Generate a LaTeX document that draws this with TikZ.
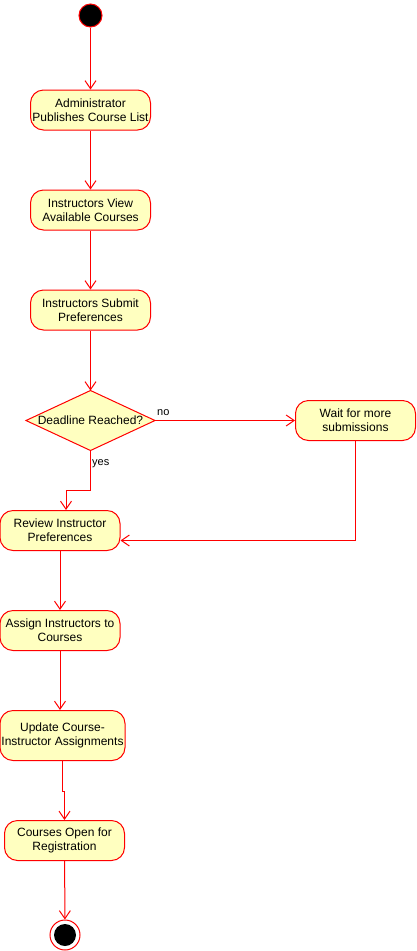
\documentclass[tikz,border=0pt]{standalone}
\usepackage{fontspec}
\setmainfont{Liberation Sans}
\usetikzlibrary{arrows.meta}
\definecolor{nodefill}{HTML}{FFFFC0}
\definecolor{edge}{HTML}{FF0000}
\tikzset{
  act/.style={draw=edge, fill=nodefill, rounded corners=13pt, line width=1pt,
    minimum width=120pt, minimum height=40pt, inner sep=0pt, align=center,
    font=\fontsize{12}{14}\selectfont},
  arr/.style={draw=edge, line width=1pt, -{Straight Barb[length=8pt,width=11pt,line width=1pt]}},
  lbl/.style={font=\fontsize{11}{13}\selectfont, inner sep=0pt}
}
\begin{document}
\begin{tikzpicture}[x=1pt,y=-1pt]
\useasboundingbox (0,0) rectangle (416,951);
\node[circle, fill=black, draw=edge, line width=1pt, minimum size=23pt, inner sep=0pt] (start) at (90.5,15.5) {};
\node[act] (b1) at (90.5,110) {Administrator\\Publishes Course List};
\node[act] (b2) at (90.5,210) {Instructors View\\Available Courses};
\node[act] (b3) at (90.5,310) {Instructors Submit\\Preferences};
\coordinate (dc) at (90.5,420.5);
\draw[draw=edge, fill=nodefill, line width=1pt] (26,420.5) -- (90.5,390.5) -- (155,420.5) -- (90.5,450.5) -- cycle;
\node[minimum width=129pt, minimum height=60pt, inner sep=0pt, font=\fontsize{12}{14}\selectfont] (dec) at (dc) {Deadline Reached?};
\node[act] (wait) at (355.5,420.5) {Wait for more\\submissions};
\node[act] (rev) at (60,530.5) {Review Instructor\\Preferences};
\node[act] (asg) at (60,630.5) {Assign Instructors to\\Courses};
\node[act, minimum width=125pt, minimum height=50pt] (upd) at (62.5,735.5) {Update Course-\\Instructor Assignments};
\node[act] (crs) at (64.5,840.5) {Courses Open for\\Registration};
\node[circle, draw=edge, line width=1pt, minimum size=30pt, inner sep=0pt] (end) at (65,935) {};
\node[circle, fill=black, minimum size=22pt, inner sep=0pt] (endin) at (end) {};
\draw[arr] (start) -- (b1);
\draw[arr] (b1) -- (b2);
\draw[arr] (b2) -- (b3);
\draw[arr] (b3) -- (dec.south |- 0,390.5);
\draw[arr] (dec.east) -- (wait.west);
\node[lbl, anchor=south west] (no) at (157,416) {no};
\draw[arr] (dec.south |- 0,450.5) -- ++(0,40) -| ([xshift=6pt]rev.north);
\node[lbl, anchor=north west] (yes) at (92,459) {yes};
\draw[arr] (wait.south) |- ([yshift=-10pt]rev.east);
\draw[arr] (rev) -- (asg);
\draw[arr] (asg) -- (asg |- upd.north);
\draw[arr] (upd.south) -- ++(0,30) -| (crs.north);
\draw[arr] (crs) -- (end);
\end{tikzpicture}
\end{document}
